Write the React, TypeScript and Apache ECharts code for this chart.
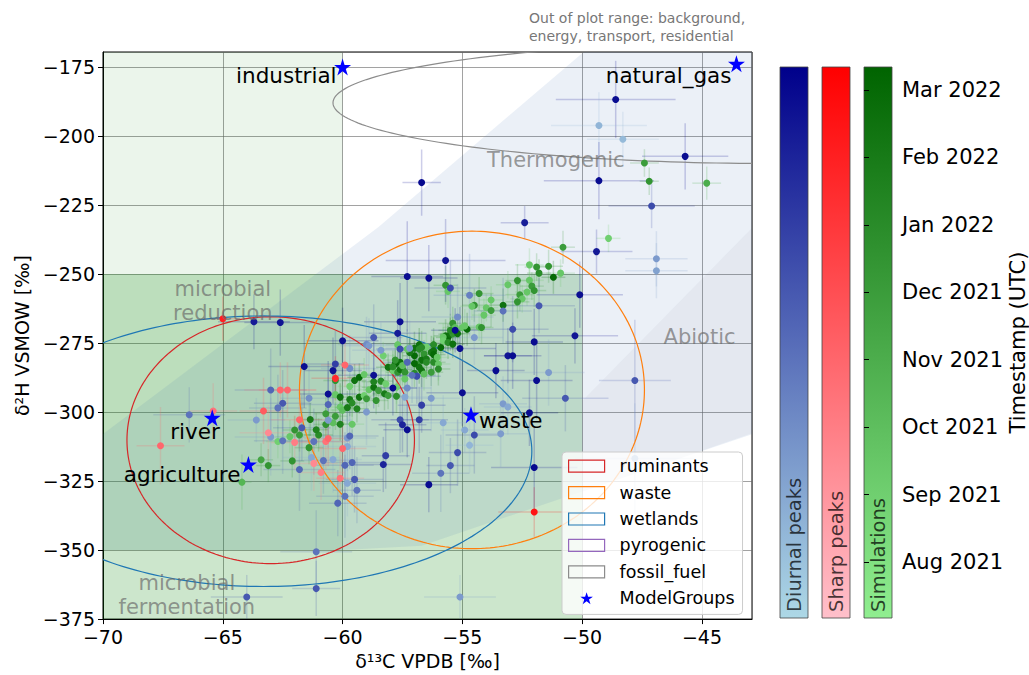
import React, { useEffect, useRef } from 'react';
import * as echarts from 'echarts';

// ------------------------- data -------------------------
const monthLabels = ['Aug 2021', 'Sep 2021', 'Oct 2021', 'Nov 2021', 'Dec 2021', 'Jan 2022', 'Feb 2022', 'Mar 2022'];
const monthTickValues = [0, 1, 2, 3, 4, 5, 6, 7]; // months since Aug 2021
const timeMin = -0.83;
const timeMax = 7.34;

const ellipseNames = ['ruminants', 'waste', 'wetlands', 'pyrogenic', 'fossil_fuel'];
const ellipseCenterX = [-63.0, -54.6, -63.3, -26.0, -42.0];
const ellipseCenterY = [-310.2, -292.0, -314.2, -211.0, -188.0];
const ellipseRadiusX = [6.0, 7.2, 11.2, 3.0, 18.4];
const ellipseRadiusY = [44.7, 57.5, 49.0, 15.0, 22.0];

const modelGroupNames = ['industrial', 'natural_gas', 'river', 'agriculture', 'waste'];
const modelGroupX = [-60.0, -43.56, -65.44, -63.93, -54.64];
const modelGroupY = [-175.0, -173.9, -302.1, -319.0, -301.0];

const regionReduction = [[-110, -350], [-60, -350], [-60, -150], [-110, -150]];
const regionFermentation = [[-110, -400], [-50, -400], [-50, -250], [-110, -250]];
const regionThermogenic = [[-49.45, -166], [-58.5, -233], [-70, -308], [-72, -320], [-72, -350], [-60, -350], [-56.7, -348.4], [-42.9, -308], [-38, -293], [-38, -160], [-49, -160]];
const regionAbiotic = [[-40.5, -212], [-50, -296], [-50, -329], [-40, -299]];
const regions = [regionReduction, regionFermentation, regionThermogenic, regionAbiotic];

const regionLabelTexts = ['microbial\nreduction', 'microbial\nfermentation', 'Thermogenic', 'Abiotic'];
const regionLabelX = [-65.0, -66.5, -51.1, -45.1];
const regionLabelY = [-259.7, -366.4, -208.8, -273.0];

// [d13C, d2H, xerr, yerr, months since Aug 2021]
const diurnalPeaks = [
  [-48.6, -186.8, 2.5, 14, 6.9], [-49.3, -196.2, 2.0, 12, 0.5], [-48.3, -201.2, 1.5, 10, 0.3],
  [-45.7, -207.4, 1.8, 12, 6.8], [-49.3, -216.2, 2.3, 14, 6.9], [-47.1, -225.4, 1.8, 8, 4.5],
  [-52.4, -231.4, 1.0, 6, 6.2], [-56.7, -216.9, 0.8, 12, 7.0], [-49.4, -241.9, 1.5, 8, 6.4],
  [-46.9, -244.5, 1.3, 10, 1.5], [-46.9, -248.8, 1.3, 10, 1.2], [-55.7, -245.1, 2.5, 15, 6.6],
  [-57.3, -250.9, 1.5, 20, 6.9], [-56.4, -251.5, 1.2, 12, 6.9], [-55.5, -255.1, 1.5, 10, 4.5],
  [-50.1, -257.5, 1.8, 12, 6.8], [-54.7, -257.7, 1.5, 15, 2.5], [-51.8, -261.5, 1.5, 10, 4.0],
  [-53.3, -263.4, 1.2, 12, 3.0], [-52.9, -270.0, 1.5, 12, 4.5], [-50.3, -272.4, 1.8, 10, 6.5],
  [-52.0, -274.6, 1.2, 12, 6.9], [-55.1, -277.0, 1.5, 15, 6.9], [-53.1, -279.6, 1.0, 10, 6.5],
  [-52.9, -279.6, 1.2, 12, 6.9], [-53.6, -285.0, 1.2, 10, 6.9], [-51.4, -285.7, 1.5, 12, 1.5],
  [-51.9, -288.6, 1.5, 14, 6.9], [-47.8, -288.6, 1.5, 22, 4.0], [-55.0, -293.0, 1.5, 12, 6.8],
  [-50.7, -295.0, 1.8, 12, 4.0], [-53.3, -297.0, 1.0, 10, 1.5], [-53.1, -298.2, 1.0, 10, 1.0],
  [-52.2, -300.3, 1.2, 12, 6.9], [-55.2, -265.6, 1.5, 12, 2.0], [-54.5, -273.0, 1.2, 10, 1.5],
  [-55.3, -270.4, 1.0, 8, 7.0], [-47.8, -316.8, 2.5, 20, 1.0], [-52.0, -320.1, 1.8, 15, 7.0],
  [-54.5, -308.3, 1.2, 14, 4.5], [-55.2, -314.7, 1.2, 12, 4.5], [-55.5, -319.4, 1.0, 10, 4.0],
  [-55.9, -322.2, 1.2, 14, 3.0], [-54.9, -306.5, 1.0, 8, 1.0], [-54.7, -312.0, 1.0, 10, 0.5],
  [-55.8, -303.9, 1.0, 10, 1.0], [-53.4, -307.9, 1.2, 12, 1.5], [-55.1, -367.0, 1.5, 8, 1.5],
  [-57.6, -302.8, 1.2, 12, 4.5], [-57.5, -304.6, 1.0, 10, 6.0], [-57.3, -306.4, 1.0, 10, 6.8],
  [-56.8, -302.8, 1.2, 12, 5.0], [-58.2, -315.8, 1.0, 12, 5.0], [-58.3, -319.0, 1.2, 10, 6.0],
  [-56.4, -326.3, 1.2, 10, 6.9], [-56.7, -297.5, 1.0, 10, 5.0], [-56.3, -295.0, 1.2, 12, 1.5],
  [-57.3, -291.3, 1.0, 10, 2.0], [-56.9, -287.0, 1.0, 10, 4.5], [-57.9, -291.3, 1.0, 10, 7.0],
  [-58.7, -286.7, 1.5, 12, 6.7], [-57.3, -282.0, 1.0, 12, 3.5], [-57.1, -286.7, 1.0, 10, 3.0],
  [-57.4, -294.6, 1.0, 10, 1.0], [-57.6, -267.3, 1.5, 14, 6.8], [-57.7, -271.5, 1.2, 12, 6.3],
  [-58.7, -273.0, 1.2, 12, 4.0], [-59.0, -275.5, 1.2, 10, 2.0], [-58.9, -276.0, 1.2, 10, 1.5],
  [-58.4, -277.6, 1.2, 10, 1.5], [-57.6, -277.2, 1.0, 10, 4.5], [-57.2, -276.9, 1.0, 10, 1.5],
  [-60.0, -274.2, 1.5, 12, 6.8], [-63.7, -267.3, 1.5, 10, 6.3], [-62.6, -267.6, 1.5, 12, 6.6],
  [-61.6, -283.5, 1.5, 15, 6.8], [-60.4, -285.0, 1.2, 12, 6.7], [-60.3, -282.6, 1.2, 12, 5.0],
  [-60.6, -293.5, 1.2, 12, 6.8], [-59.7, -284.2, 1.2, 12, 2.0], [-59.0, -300.0, 1.2, 12, 1.5],
  [-63.0, -292.0, 1.5, 15, 3.5], [-62.5, -296.8, 1.2, 12, 4.0], [-62.7, -298.5, 1.2, 12, 3.0],
  [-63.6, -302.9, 1.2, 8, 1.5], [-66.4, -301.0, 1.5, 10, 3.0], [-61.4, -295.0, 1.2, 12, 2.0],
  [-63.0, -309.0, 1.5, 14, 1.5], [-62.5, -310.4, 1.2, 12, 3.0], [-61.8, -320.8, 1.5, 15, 3.5],
  [-61.7, -305.7, 1.2, 12, 4.0], [-61.2, -310.7, 1.2, 12, 3.0], [-61.3, -316.5, 1.2, 12, 1.0],
  [-60.8, -317.6, 1.2, 12, 3.0], [-60.4, -317.2, 1.2, 12, 1.0], [-59.8, -309.4, 1.2, 12, 1.5],
  [-59.8, -312.5, 1.2, 12, 1.0], [-59.9, -319.3, 1.2, 12, 3.5], [-59.6, -318.3, 1.2, 12, 3.5],
  [-59.8, -325.8, 1.2, 12, 1.0], [-59.5, -324.4, 1.2, 12, 4.0], [-59.4, -328.3, 1.0, 12, 3.0],
  [-59.9, -330.5, 1.2, 15, 3.0], [-60.2, -333.0, 1.2, 12, 3.5], [-61.1, -350.6, 1.5, 15, 3.0],
  [-61.1, -363.9, 1.0, 10, 4.0], [-64.0, -367.0, 1.5, 8, 4.0], [-60.6, -297.3, 1.2, 12, 3.5],
  [-60.6, -303.0, 1.0, 10, 1.5], [-59.7, -308.7, 1.2, 12, 3.5],
];

const sharpPeaks = [
  [-65.0, -266.2, 0.8, 8, 6.0], [-59.9, -283.0, 1.0, 8, 3.0], [-60.3, -287.8, 1.0, 8, 5.5],
  [-62.6, -292.0, 1.5, 10, 3.0], [-62.3, -292.0, 1.2, 10, 3.0], [-63.3, -299.6, 1.0, 12, 3.5],
  [-65.4, -299.6, 1.0, 10, 2.5], [-61.8, -302.8, 1.2, 10, 3.0], [-67.6, -312.2, 1.0, 14, 3.0],
  [-63.1, -307.5, 1.2, 10, 1.5], [-62.0, -311.0, 1.0, 10, 2.0], [-60.7, -310.7, 1.0, 10, 2.5],
  [-60.6, -309.6, 1.0, 10, 3.0], [-61.2, -318.6, 1.0, 10, 1.5], [-60.9, -321.9, 1.0, 10, 2.0],
  [-60.0, -313.2, 1.0, 10, 3.0], [-60.1, -324.0, 1.0, 10, 2.5], [-52.0, -336.2, 1.5, 9, 6.5],
];

const simulations = [
  [-47.4, -209.8, 0.6, 5, 4.0], [-47.2, -216.4, 0.4, 5, 4.5], [-44.8, -217.1, 0.6, 6, 3.0],
  [-48.9, -237.1, 0.5, 5, 1.0], [-50.8, -240.3, 0.5, 6, 4.0], [-52.2, -246.7, 0.6, 6, 1.5],
  [-51.9, -247.5, 0.5, 5, 4.5], [-51.4, -247.2, 0.6, 6, 4.5], [-51.8, -249.7, 0.5, 5, 5.0],
  [-51.2, -251.2, 0.5, 6, 7.0], [-50.9, -249.7, 0.6, 5, 1.5], [-55.7, -254.1, 0.5, 7, 4.5],
  [-55.6, -256.3, 0.5, 6, 1.5], [-54.3, -257.1, 0.6, 6, 4.5], [-53.1, -253.9, 0.5, 5, 1.5],
  [-52.7, -252.4, 0.5, 6, 4.5], [-52.2, -252.3, 0.6, 5, 1.5], [-52.1, -254.4, 0.5, 5, 4.0],
  [-52.0, -256.0, 0.5, 6, 4.5], [-52.3, -256.5, 0.5, 5, 1.5], [-52.6, -257.5, 0.6, 6, 4.0],
  [-52.5, -259.0, 0.5, 5, 1.5], [-52.7, -260.1, 0.5, 6, 4.5], [-53.3, -261.3, 0.6, 6, 6.5],
  [-53.8, -259.4, 0.5, 5, 1.5], [-54.5, -261.3, 0.5, 6, 4.5], [-54.6, -261.7, 0.5, 5, 1.5],
  [-54.0, -262.2, 0.5, 5, 1.5], [-53.8, -263.2, 0.6, 6, 4.0], [-54.1, -264.9, 0.5, 6, 1.5],
  [-54.3, -269.2, 0.5, 5, 1.5], [-54.2, -269.4, 0.5, 6, 4.5], [-55.4, -267.9, 0.6, 6, 4.5],
  [-55.0, -269.4, 0.5, 5, 1.5], [-54.8, -270.0, 0.5, 6, 7.0], [-55.7, -272.4, 0.5, 6, 6.5],
  [-55.6, -273.0, 0.5, 5, 7.0], [-55.5, -271.8, 0.5, 6, 6.5], [-55.8, -272.8, 0.5, 5, 1.5],
  [-55.4, -271.6, 0.5, 6, 4.5], [-55.2, -271.6, 0.5, 5, 6.5], [-54.9, -268.8, 0.5, 6, 1.5],
  [-55.3, -269.4, 0.5, 5, 2.0], [-55.5, -270.4, 0.5, 6, 5.0], [-55.8, -274.2, 0.5, 5, 1.0],
  [-56.2, -275.6, 0.5, 6, 5.0], [-56.5, -276.4, 0.5, 5, 1.0], [-56.8, -275.6, 0.5, 6, 6.5],
  [-55.9, -276.6, 0.5, 5, 7.0], [-55.6, -274.8, 0.5, 6, 5.0], [-55.4, -275.4, 0.5, 5, 6.5],
  [-56.3, -278.4, 0.5, 6, 6.0], [-56.6, -279.0, 0.5, 5, 4.5], [-57.0, -276.9, 0.5, 6, 6.5],
  [-57.2, -277.6, 0.5, 5, 7.0], [-56.8, -277.2, 0.5, 6, 5.0], [-57.0, -279.6, 0.5, 5, 7.0],
  [-56.7, -281.2, 0.5, 6, 6.5], [-56.5, -280.8, 0.5, 5, 6.0], [-56.5, -282.0, 0.5, 6, 5.0],
  [-56.9, -282.6, 0.5, 5, 4.5], [-56.8, -283.8, 0.5, 6, 6.5], [-56.2, -282.0, 0.5, 5, 5.0],
  [-56.0, -282.6, 0.5, 6, 1.5], [-57.6, -282.0, 0.5, 5, 6.5], [-57.5, -284.4, 0.5, 6, 5.0],
  [-57.8, -282.6, 0.5, 5, 7.0], [-57.9, -285.0, 0.5, 6, 1.0], [-58.1, -283.8, 0.5, 5, 6.5],
  [-57.9, -283.6, 0.5, 6, 5.0], [-57.7, -285.6, 0.5, 5, 4.5], [-57.6, -284.6, 0.5, 6, 6.5],
  [-57.4, -285.6, 0.5, 5, 4.5], [-57.4, -288.0, 0.5, 6, 1.5], [-58.3, -279.6, 0.5, 5, 1.0],
  [-57.8, -281.2, 0.5, 6, 4.5], [-57.5, -283.2, 0.5, 6, 2.0], [-57.0, -282.4, 0.5, 5, 7.0],
  [-56.7, -285.0, 0.5, 6, 6.5], [-57.0, -286.0, 0.5, 5, 5.0], [-56.6, -286.2, 0.5, 6, 2.0],
  [-56.3, -285.6, 0.5, 5, 4.0], [-56.0, -284.4, 0.5, 6, 5.0], [-56.7, -276.6, 0.5, 6, 5.0],
  [-56.2, -277.8, 0.5, 5, 6.5], [-56.2, -279.2, 0.5, 6, 7.0], [-57.2, -278.4, 0.5, 5, 6.0],
  [-56.05, -280.2, 0.5, 5, 1.5], [-57.3, -277.2, 0.5, 6, 1.5], [-57.7, -275.6, 0.5, 5, 1.5],
  [-61.35, -302.7, 0.5, 6, 6.0], [-61.0, -308.3, 0.6, 6, 5.0], [-61.8, -308.3, 0.5, 6, 4.0],
  [-62.0, -306.5, 0.5, 5, 4.5], [-62.2, -308.9, 0.6, 6, 1.5], [-62.7, -310.7, 0.5, 6, 1.0],
  [-61.4, -312.9, 0.6, 6, 4.5], [-60.7, -304.5, 0.5, 6, 4.5], [-60.4, -303.9, 0.5, 5, 2.0],
  [-60.1, -304.4, 0.5, 6, 5.5], [-59.6, -304.4, 0.5, 5, 1.5], [-60.7, -300.6, 0.5, 6, 4.0],
  [-60.3, -301.5, 0.5, 5, 4.0], [-60.1, -298.2, 0.5, 6, 1.5], [-60.0, -299.3, 0.5, 5, 2.0],
  [-59.8, -298.4, 0.5, 6, 6.0], [-59.4, -298.8, 0.5, 5, 5.5], [-60.3, -293.7, 0.5, 6, 1.5],
  [-60.1, -294.6, 0.5, 5, 6.5], [-59.7, -295.5, 0.5, 6, 6.0], [-59.6, -296.7, 0.5, 5, 5.0],
  [-59.3, -294.6, 0.5, 6, 6.5], [-59.1, -294.0, 0.5, 5, 1.0], [-59.0, -295.2, 0.5, 6, 4.0],
  [-60.3, -288.6, 0.5, 5, 4.5], [-59.5, -288.6, 0.5, 6, 6.5], [-59.3, -287.4, 0.5, 5, 7.0],
  [-59.1, -286.4, 0.5, 6, 1.5], [-59.7, -290.7, 0.5, 5, 1.0], [-58.9, -291.9, 0.5, 6, 1.5],
  [-58.7, -291.0, 0.5, 5, 6.5], [-58.5, -292.2, 0.5, 6, 4.0], [-58.7, -289.0, 0.5, 5, 5.5],
  [-58.4, -288.8, 0.5, 6, 5.0], [-58.2, -289.8, 0.5, 5, 1.0], [-58.25, -293.4, 0.5, 6, 6.0],
  [-58.1, -294.0, 0.5, 5, 4.0], [-57.75, -294.3, 0.5, 6, 5.0], [-58.6, -295.8, 0.5, 5, 4.5],
  [-57.75, -291.0, 0.5, 6, 1.0], [-63.4, -317.3, 0.5, 6, 3.5], [-63.1, -319.4, 0.5, 6, 4.5],
  [-64.2, -325.4, 0.4, 10, 2.5], [-62.1, -317.7, 0.5, 6, 4.5], [-61.1, -306.4, 0.5, 6, 5.5],
];

// ------------------------- styles -------------------------
const FONT = '"DejaVu Sans", sans-serif';
const ellipseColors = ['#d62728', '#ff7f0e', '#1f77b4', '#9467bd', '#8c8c8c'];
const regionFills = ['rgba(0,128,0,0.08)', 'rgba(0,128,0,0.2)', 'rgba(60,110,180,0.1)', 'rgba(100,100,110,0.05)'];
const starPath = 'path://M50,2L61.2,36.6L97.6,36.5L68.1,57.9L79.4,92.5L50,71L20.6,92.5L31.9,57.9L2.4,36.5L38.8,36.6Z';
const starLabelStyle: Record<string, { pos: string; off: number[] }> = {
  industrial: { pos: 'left', off: [2.5, 9] },
  natural_gas: { pos: 'left', off: [3.5, 12] },
  river: { pos: 'left', off: [16, 14] },
  agriculture: { pos: 'left', off: [0.5, 10] },
  waste: { pos: 'right', off: [-0.5, 6] },
};
const groups = [
  { name: 'Simulations', data: simulations, colors: ['#90ee90', '#006400'] },
  { name: 'Diurnal peaks', data: diurnalPeaks, colors: ['#add8e6', '#00008b'] },
  { name: 'Sharp peaks', data: sharpPeaks, colors: ['#ffc0cb', '#ff0000'] },
];
const colorbarOrder = [1, 2, 0]; // diurnal, sharp, simulations (left to right)
const colorbarX = [780, 822, 864];
const colorbarTop = 67;
const colorbarHeight = 551;
const colorbarWidth = 28;

const minusFmt = (v: number) => (v < 0 ? '\u2212' + Math.abs(v) : String(v));

function buildOption() {
  const series: any[] = [];

  series.push({
    type: 'custom',
    name: 'regions',
    z: 1,
    silent: true,
    clip: true,
    encode: { x: 0, y: 1 },
    data: regions.map((poly) => [poly[0][0], poly[0][1]]),
    renderItem: (params: any, api: any) => {
      const poly = regions[params.dataIndex];
      return {
        type: 'polygon',
        shape: { points: poly.map((p) => api.coord(p)) },
        style: { fill: regionFills[params.dataIndex], stroke: null },
      };
    },
  });

  const errIdx: number[] = [];
  groups.forEach((g) => {
    errIdx.push(series.length);
    series.push({
      type: 'custom',
      name: g.name + ' err',
      z: 2,
      silent: true,
      clip: true,
      dimensions: ['x', 'y', 'xe', 'ye', 't'],
      encode: { x: 0, y: 1 },
      data: g.data,
      renderItem: (params: any, api: any) => {
        const x = api.value(0), y = api.value(1), xe = api.value(2), ye = api.value(3);
        const c = api.visual('color');
        const a = api.coord([x - xe, y]);
        const b = api.coord([x + xe, y]);
        const d = api.coord([x, y - ye]);
        const e = api.coord([x, y + ye]);
        return {
          type: 'group',
          children: [
            { type: 'line', shape: { x1: a[0], y1: a[1], x2: b[0], y2: b[1] }, style: { stroke: c, lineWidth: 1.5, opacity: 0.2 } },
            { type: 'line', shape: { x1: d[0], y1: d[1], x2: e[0], y2: e[1] }, style: { stroke: c, lineWidth: 1.5, opacity: 0.2 } },
          ],
        };
      },
    });
  });

  ellipseNames.forEach((n, i) => {
    series.push({
      type: 'custom',
      name: n,
      z: 2,
      silent: true,
      clip: true,
      itemStyle: { color: ellipseColors[i] },
      encode: { x: 0, y: 1 },
      data: [[ellipseCenterX[i], ellipseCenterY[i], ellipseRadiusX[i], ellipseRadiusY[i]]],
      renderItem: (params: any, api: any) => {
        const cx = api.value(0), cy = api.value(1), rx = api.value(2), ry = api.value(3);
        const pts: number[][] = [];
        for (let k = 0; k <= 240; k++) {
          const ang = (k / 240) * Math.PI * 2;
          pts.push(api.coord([cx + rx * Math.cos(ang), cy + ry * Math.sin(ang)]));
        }
        return { type: 'polyline', shape: { points: pts }, style: { stroke: ellipseColors[i], lineWidth: 1.2, fill: null } };
      },
    });
  });

  const scatIdx: number[] = [];
  groups.forEach((g) => {
    scatIdx.push(series.length);
    series.push({
      type: 'scatter',
      name: g.name,
      z: 3,
      silent: true,
      symbolSize: 7,
      itemStyle: { opacity: 1 },
      dimensions: ['x', 'y', 'xe', 'ye', 't'],
      encode: { x: 0, y: 1 },
      data: g.data,
    });
  });

  series.push({
    type: 'scatter',
    name: 'ModelGroups',
    z: 4,
    silent: true,
    symbol: starPath,
    symbolSize: 17,
    itemStyle: { color: '#0000ff', opacity: 1 },
    data: modelGroupNames.map((n, i) => ({
      name: n,
      value: [modelGroupX[i], modelGroupY[i]],
      label: {
        show: true,
        position: starLabelStyle[n].pos,
        offset: starLabelStyle[n].off,
        distance: 0,
        formatter: '{b}',
        fontSize: 21.5,
        color: '#000',
        opacity: 1,
        fontFamily: FONT,
      },
    })),
  });

  series.push({
    type: 'scatter',
    name: 'region labels',
    z: 3,
    silent: true,
    symbolSize: 1,
    itemStyle: { color: 'rgba(0,0,0,0)' },
    label: {
      show: true,
      position: 'inside',
      formatter: '{b}',
      fontSize: 21,
      lineHeight: 24,
      color: 'rgba(105,105,105,0.85)',
      fontFamily: FONT,
    },
    data: regionLabelTexts.map((t, i) => ({ name: t, value: [regionLabelX[i], regionLabelY[i]] })),
  });

  series.push({ type: 'scatter', name: 'cb', xAxisIndex: 1, yAxisIndex: 1, data: [], silent: true });

  const visualMap = groups.map((g, i) => ({
    type: 'continuous',
    show: false,
    seriesIndex: [errIdx[i], scatIdx[i]],
    dimension: 4,
    min: timeMin,
    max: timeMax,
    inRange: { color: g.colors },
  }));

  const graphic: any[] = [];
  colorbarOrder.forEach((gi, k) => {
    const g = groups[gi];
    graphic.push({
      type: 'rect',
      shape: { x: colorbarX[k], y: colorbarTop, width: colorbarWidth, height: colorbarHeight },
      style: {
        fill: new echarts.graphic.LinearGradient(0, 0, 0, 1, [
          { offset: 0, color: g.colors[1] },
          { offset: 1, color: g.colors[0] },
        ]),
        stroke: '#444',
        lineWidth: 0.8,
      },
      silent: true,
    });
    graphic.push({
      type: 'text',
      x: colorbarX[k] + colorbarWidth / 2,
      y: colorbarTop + colorbarHeight - 6,
      rotation: Math.PI / 2,
      silent: true,
      style: {
        text: g.name,
        font: '19.5px "DejaVu Sans"',
        fill: 'rgba(0,0,0,0.72)',
        align: 'left',
        verticalAlign: 'middle',
      },
    });
  });

  return {
    animation: false,
    textStyle: { fontFamily: FONT },
    title: {
      text: 'Out of plot range: background,\nenergy, transport, residential',
      left: 529,
      top: 9,
      padding: 0,
      textStyle: { fontSize: 14, fontWeight: 'normal', color: '#777', lineHeight: 18, fontFamily: FONT },
    },
    grid: [
      { left: 103, top: 52, width: 649, height: 571, show: true, borderColor: '#000', borderWidth: 1, backgroundColor: 'rgba(0,0,0,0)' },
      { left: 864, top: colorbarTop, width: colorbarWidth, height: colorbarHeight, show: false },
    ],
    xAxis: [
      {
        type: 'value', gridIndex: 0, min: -70, max: -42.91, interval: 5,
        axisLine: { show: true, onZero: false, lineStyle: { color: '#000' } },
        axisTick: { show: true, length: 5, lineStyle: { color: '#000' } },
        axisLabel: { fontSize: 19, color: '#000', margin: 8, showMaxLabel: false, formatter: (v: number) => (v % 5 === 0 ? minusFmt(v) : '') },
        splitLine: { show: true, lineStyle: { color: 'rgba(100,100,100,0.6)', width: 1 } },
        name: 'δ¹³C VPDB [‰]', nameLocation: 'middle', nameGap: 29,
        nameTextStyle: { fontSize: 19, color: '#000' },
      },
      { type: 'value', gridIndex: 1, show: false, min: 0, max: 1 },
    ],
    yAxis: [
      {
        type: 'value', gridIndex: 0, min: -375, max: -169.6, interval: 25,
        axisLine: { show: true, onZero: false, lineStyle: { color: '#000' } },
        axisTick: { show: true, length: 5, lineStyle: { color: '#000' } },
        axisLabel: { fontSize: 19, color: '#000', margin: 8, showMaxLabel: false, formatter: (v: number) => (v % 25 === 0 ? minusFmt(v) : '') },
        splitLine: { show: true, lineStyle: { color: 'rgba(100,100,100,0.6)', width: 1 } },
        name: 'δ²H VSMOW [‰]', nameLocation: 'middle', nameGap: 70, nameRotate: 90,
        nameTextStyle: { fontSize: 19, color: '#000' },
      },
      {
        type: 'value', gridIndex: 1, min: timeMin, max: timeMax, position: 'right',
        axisLine: { show: false },
        splitLine: { show: false },
        axisTick: { show: true, length: 5, customValues: monthTickValues, lineStyle: { color: '#000' } },
        axisLabel: {
          customValues: monthTickValues, fontSize: 21, color: '#000', margin: 10,
          formatter: (v: number) => (Number.isInteger(v) && monthLabels[v] ? monthLabels[v] : ''),
        },
        name: 'Timestamp (UTC)', nameLocation: 'middle', nameRotate: 90, nameGap: 114,
        nameTextStyle: { fontSize: 21, color: '#000' },
      },
    ],
    legend: {
      left: 562, top: 452, orient: 'vertical',
      itemWidth: 36, itemHeight: 12, itemGap: 6,
      padding: [4, 8, 6, 6],
      backgroundColor: 'rgba(255,255,255,0.8)', borderColor: '#cccccc', borderWidth: 1, borderRadius: 4,
      selectedMode: false, z: 6,
      textStyle: { fontSize: 17.5, color: '#000', padding: [0, 0, 0, 10], lineHeight: 20.4 },
      data: [
        ...ellipseNames.map((n, i) => ({
          name: n, icon: 'rect',
          itemStyle: { color: 'rgba(255,255,255,0)', borderColor: ellipseColors[i], borderWidth: 1.2 },
        })),
        { name: 'ModelGroups', icon: starPath, itemStyle: { color: '#0000ff' } },
      ],
    },
    visualMap,
    graphic,
    series,
  };
}

export default function App() {
  const ref = useRef<HTMLDivElement>(null);
  useEffect(() => {
    document.body.style.margin = '0';
    if (!ref.current) return;
    const chart = echarts.init(ref.current, undefined, { renderer: 'svg' });
    chart.setOption(buildOption() as any);
    return () => chart.dispose();
  }, []);
  return <div ref={ref} style={{ position: 'absolute', left: 0, top: 0, width: 1029, height: 675 }} />;
}
